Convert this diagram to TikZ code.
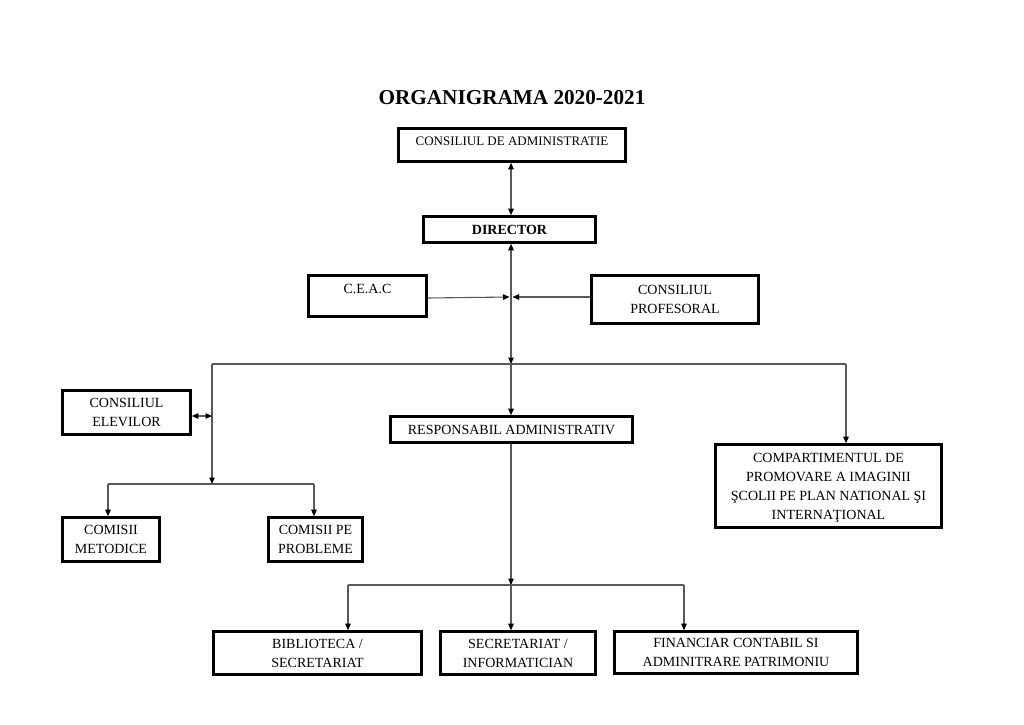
\documentclass[tikz,border=0pt]{standalone}
\usepackage{fontspec}
\setmainfont{Liberation Serif}
\usetikzlibrary{arrows.meta}
\begin{document}
\begin{tikzpicture}[x=1pt,y=-1pt,
  box/.style={draw=black, line width=2.6pt, fill=white, inner sep=0pt, align=center,
    font=\fontsize{14}{19}\selectfont},
  ml/.style={text depth=0pt},
  txt/.style={inner sep=0pt, font=\fontsize{14}{19}\selectfont},
  conn/.style={draw=black!65, line width=1.1pt},
  tip/.tip={Triangle[length=6.5pt,width=5.5pt,color=black]},
  arr/.style={conn, -tip},
  darr/.style={conn, tip-tip}
]
\fill[white] (0,0) rectangle (1024,724);
\useasboundingbox (0,0) rectangle (1024,724);

% title
\node[inner sep=0pt, font=\fontsize{21.2}{24}\selectfont\bfseries] (title) at (512,98) {ORGANIGRAMA 2020-2021};

% boxes
\node[box, minimum width=227, minimum height=33] (cda) at (512,145) {};
\node[txt, font=\fontsize{13}{16}\selectfont] (cdat) at (512,141) {CONSILIUL DE ADMINISTRATIE};
\node[box, minimum width=172, minimum height=26, font=\fontsize{14}{19}\selectfont\bfseries] (dir) at (509.5,229.5) {DIRECTOR};
\node[box, minimum width=118, minimum height=41] (ceac) at (367.5,296) {};
\node[txt] (ceact) at (367.5,289) {C.E.A.C};
\node[box, ml, minimum width=167, minimum height=48] (prof) at (675,299.5) {CONSILIUL\\PROFESORAL};
\node[box, ml, minimum width=128, minimum height=44] (elev) at (126.5,412.5) {CONSILIUL\\ELEVILOR};
\node[box, ml, minimum width=97, minimum height=44] (met) at (111,539.5) {COMISII\\METODICE};
\node[box, ml, minimum width=94, minimum height=44] (prob) at (315.5,539.5) {COMISII PE\\PROBLEME};
\node[box, minimum width=242, minimum height=26] (resp) at (511.5,429.5) {RESPONSABIL ADMINISTRATIV};
\node[box, ml, minimum width=226, minimum height=83] (comp) at (828.5,486) {COMPARTIMENTUL DE\\PROMOVARE A IMAGINII\\ŞCOLII PE PLAN NATIONAL ŞI\\INTERNAŢIONAL};
\node[box, ml, minimum width=208, minimum height=43] (bib) at (317.5,653) {BIBLIOTECA /\\SECRETARIAT};
\node[box, ml, minimum width=155, minimum height=43] (sec) at (518,653) {SECRETARIAT /\\INFORMATICIAN};
\node[box, ml, minimum width=243, minimum height=42] (fin) at (736,652.5) {FINANCIAR CONTABIL SI\\ADMINITRARE PATRIMONIU};

% junction coordinates
\coordinate (jm) at (511,364);
\coordinate (jl) at (212,364);
\coordinate (jr) at (846,364);
\coordinate (mid) at (511,297);
\coordinate (je) at (212,416);
\coordinate (jlb) at (212,484);
\coordinate (jll) at (108,484);
\coordinate (jlr) at (314,484);
\coordinate (jb) at (511,585);
\coordinate (jbl) at (348,585);
\coordinate (jbr) at (684,585);

% connectors
\draw[darr] (jm |- cda.south) -- (jm |- dir.north);
\draw[darr] (jm |- dir.south) -- (jm);
\draw[arr] ([yshift=-2pt]ceac.east) -- ([xshift=-1.5pt]mid);
\draw[arr] (prof.west |- mid) -- ([xshift=1.5pt]mid);
\draw[conn] (jl) -- (jr);
\draw[arr] (jr) -- (jr |- comp.north);
\draw[arr] (jm) -- (jm |- resp.north);
\draw[arr] (jl) -- (jlb);
\draw[darr] (elev.east |- je) -- (je);
\draw[conn] (jll) -- (jlr);
\draw[arr] (jll) -- (jll |- met.north);
\draw[arr] (jlr) -- (jlr |- prob.north);
\draw[arr] (jm |- resp.south) -- (jb);
\draw[conn] (jbl) -- (jbr);
\draw[arr] (jbl) -- (jbl |- bib.north);
\draw[arr] (jb) -- (jb |- sec.north);
\draw[arr] (jbr) -- (jbr |- fin.north);
\end{tikzpicture}
\end{document}
